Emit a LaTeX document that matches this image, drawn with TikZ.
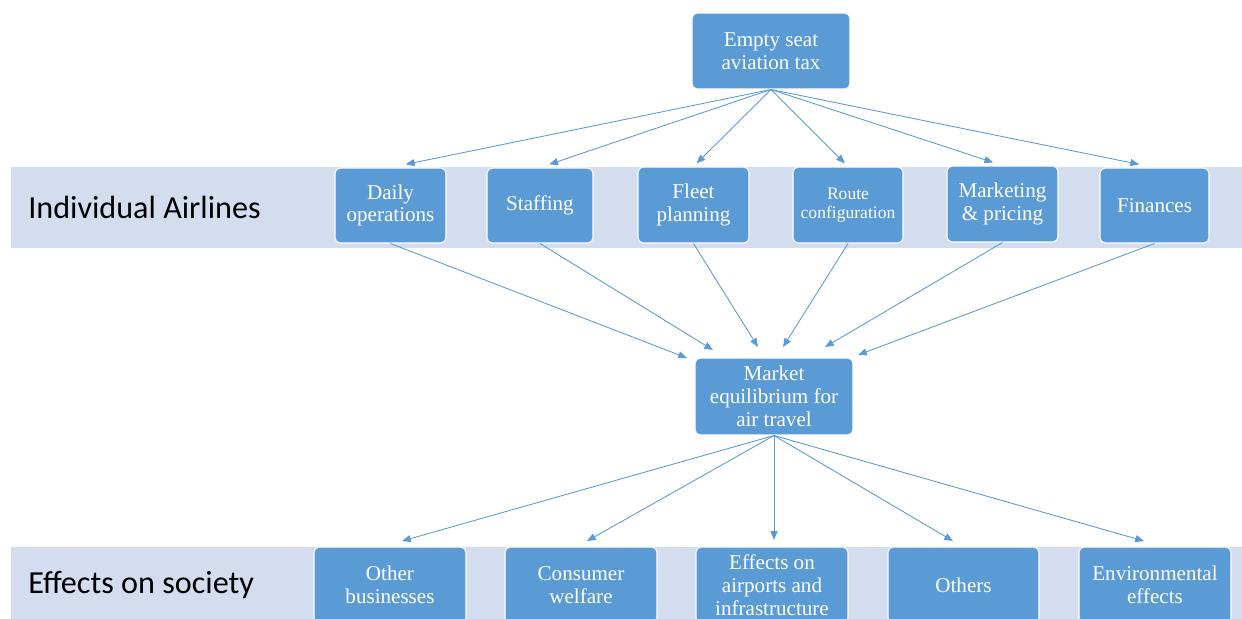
\documentclass[tikz,border=0pt]{standalone}
\usepackage{fontspec}
\setmainfont{Liberation Serif}
\newfontfamily\labelfont{Carlito}
\usetikzlibrary{arrows.meta,calc}
\definecolor{boxblue}{HTML}{5B9BD5}
\definecolor{bandblue}{HTML}{D4DDEF}
\begin{document}
\begin{tikzpicture}[x=0.02cm,y=-0.02cm,
  box/.style={draw=white, line width=0.6pt, fill=boxblue, rounded corners=3pt,
    text=white, align=center, inner sep=0pt,
    font=\fontsize{12}{13}\selectfont},
  band/.style={fill=bandblue, draw=none},
  bandlabel/.style={anchor=west, inner sep=0pt, text=black,
    font=\labelfont\fontsize{18.3}{20}\selectfont},
  link/.style={draw=boxblue, line width=0.5pt,
    -{Triangle[length=5pt,width=4pt]}}]

\useasboundingbox (0,0) rectangle (1242,619);
\clip (0,0) rectangle (1242,619);

% background bands
\fill[band] (11,167) rectangle (1242,248);
\fill[band] (11,547) rectangle (1242,619);
\node[bandlabel] (lblA) at (28,207) {Individual Airlines};
\node[bandlabel] (lblS) at (28,585) {Effects on society};

% policy
\node[box, minimum width=3.16cm, minimum height=1.52cm] (tax) at (771,51)
  {Empty seat\\aviation tax};

% airline decisions
\node[box, minimum width=2.22cm, minimum height=1.50cm] (daily) at (390.5,205.5) {Daily\\operations};
\node[box, minimum width=2.12cm, minimum height=1.50cm] (staff) at (540,205.5) {Staffing};
\node[box, minimum width=2.22cm, minimum height=1.52cm] (fleet) at (693.5,205) {Fleet\\planning};
\node[box, minimum width=2.20cm, minimum height=1.52cm, font=\fontsize{10}{11}\selectfont] (route) at (848,205) {Route\\configuration};
\node[box, minimum width=2.22cm, minimum height=1.52cm] (mkt) at (1002.5,204) {Marketing\\\& pricing};
\node[box, minimum width=2.18cm, minimum height=1.50cm] (fin) at (1154.5,205.5) {Finances};

% market
\node[box, minimum width=3.16cm, minimum height=1.54cm] (eq) at (774,396.5)
  {Market\\equilibrium for\\air travel};

% effects on society
\node[box, minimum width=3.04cm, minimum height=1.52cm] (oth) at (390,585) {Other\\businesses};
\node[box, minimum width=3.04cm, minimum height=1.52cm] (cons) at (581,585) {Consumer\\welfare};
\node[box, minimum width=3.04cm, minimum height=1.52cm] (airp) at (772,585) {Effects on\\airports and\\infrastructure};
\node[box, minimum width=3.02cm, minimum height=1.52cm] (others) at (963.5,585) {Others};
\node[box, minimum width=3.04cm, minimum height=1.52cm] (env) at (1155,585) {Environmental\\effects};

% tax to airline decisions
\foreach \b in {daily,staff,fleet,route,mkt,fin}
  \draw[link] (tax.south) -- ($(\b.north)!0.04!(tax.south)$);

% arrow ends at the market box
\coordinate (e1) at (687,358);
\coordinate (e2) at (713,350);
\coordinate (e3) at (758,347);
\coordinate (e4) at (783,347);
\coordinate (e5) at (825,347);
\coordinate (e6) at (858,355);
\draw[link] (daily.south) -- (e1);
\draw[link] (staff.south) -- (e2);
\draw[link] (fleet.south) -- (e3);
\draw[link] (route.south) -- (e4);
\draw[link] (mkt.south) -- (e5);
\draw[link] (fin.south) -- (e6);

% market to effects
\coordinate (f1) at (402,541);
\coordinate (f2) at (587,541);
\coordinate (f3) at (774,540);
\coordinate (f4) at (953,541);
\coordinate (f5) at (1144,541);
\draw[link] (eq.south) -- (f1);
\draw[link] (eq.south) -- (f2);
\draw[link] (eq.south) -- (f3);
\draw[link] (eq.south) -- (f4);
\draw[link] (eq.south) -- (f5);
\end{tikzpicture}
\end{document}
